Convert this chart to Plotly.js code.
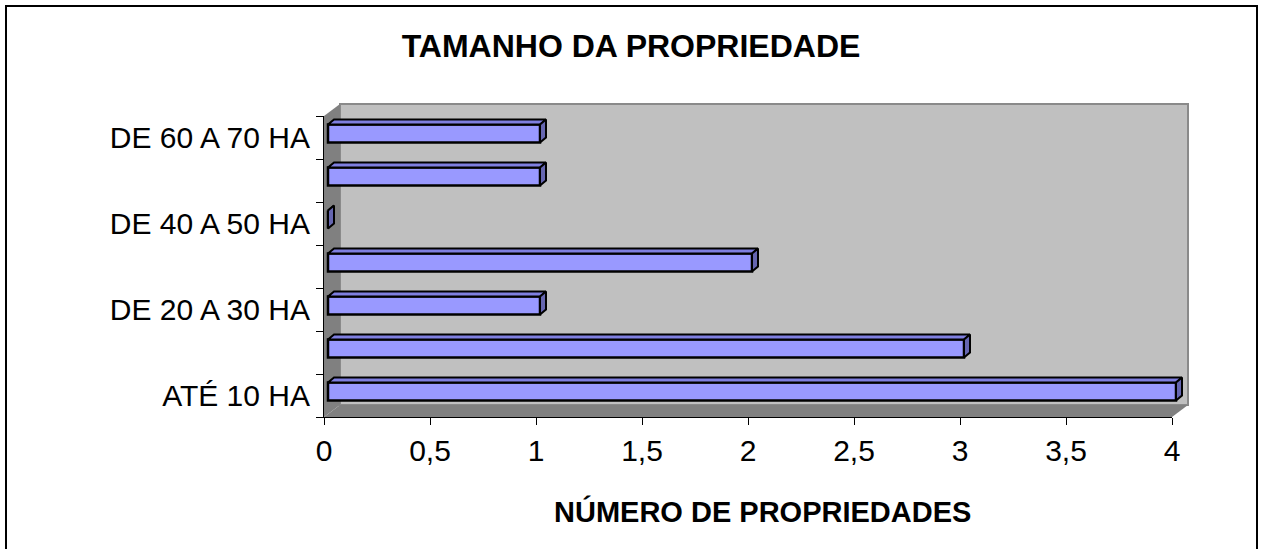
<!DOCTYPE html>
<html>
<head>
<meta charset="utf-8">
<script src="https://cdn.plot.ly/plotly-3.0.1.min.js"></script>
<style>html,body{margin:0;padding:0;background:#fff;}#chart{width:1262px;height:549px;}</style>
</head>
<body>
<div id="chart"></div>
<script>
// ---- data ----
const categories = ["ATÉ 10 HA", "DE 10 A 20 HA", "DE 20 A 30 HA", "DE 30 A 40 HA", "DE 40 A 50 HA", "DE 50 A 60 HA", "DE 60 A 70 HA"];
const values = [4, 3, 1, 2, 0, 1, 1];
const shownLabels = [true, false, true, false, true, false, true];
const xTickVals = [0, 0.5, 1, 1.5, 2, 2.5, 3, 3.5, 4];
const chartTitle = "TAMANHO DA PROPRIEDADE";
const xTitle = "NÚMERO DE PROPRIEDADES";

// ---- geometry (pixels) ----
const W = 1262, H = 549;
const L = 324, R = 1172, T = 116, B = 417;   // front axes box
const PL = 324, PR = 1200, PT = 95, PB = 417; // full plot area (incl. depth)
const PPW = PR - PL, PPH = PB - PT;
const XMAX = 4;
const nCat = categories.length;
const pxPerX = (R - L) / XMAX;
const pxPerCat = (B - T) / nCat;
const depthX = 16, depthY = 12;     // wall depth
const shiftX = 4, shiftY = 4;       // bars position inside depth
const barDX = 6, barDY = 5;         // bar depth
const barWidth = 0.42;

const px = x => (x - PL) / PPW;
const py = y => (PB - y) / PPH;

const idx = categories.map((c, i) => i);

// ranges of the bar axes spanning the full plot area, shifted into the depth
const x2min = -shiftX / pxPerX;
const x2max = x2min + PPW / pxPerX;
const y2min = -0.5 - shiftY / pxPerCat;
const y2max = y2min + PPH / pxPerCat;

// bar 3D faces in data units (bar axes)
const dxu = barDX / pxPerX, dyu = barDY / pxPerCat;
const topX = [], topY = [], sideX = [], sideY = [];
values.forEach((v, i) => {
  const y0 = i - barWidth / 2, y1 = i + barWidth / 2;
  topX.push(0, dxu, v + dxu, v, 0, null);
  topY.push(y1, y1 + dyu, y1 + dyu, y1, y1, null);
  sideX.push(v, v + dxu, v + dxu, v, v, null);
  sideY.push(y1, y1 + dyu, y0 + dyu, y0, y1, null);
});

const traces = [
  { // invisible trace carrying the visible axes
    type: 'scatter', mode: 'markers', x: values, y: idx, xaxis: 'x', yaxis: 'y',
    marker: {opacity: 0}, hoverinfo: 'skip', showlegend: false
  },
  {
    type: 'bar', orientation: 'h', x: values, y: idx, width: barWidth,
    xaxis: 'x2', yaxis: 'y2',
    marker: {color: '#9999FF', line: {color: '#000000', width: 2.5}},
    hoverinfo: 'x+text', text: categories, textposition: 'none', showlegend: false
  },
  {
    type: 'scatter', mode: 'lines', x: topX, y: topY, xaxis: 'x2', yaxis: 'y2',
    fill: 'toself', fillcolor: '#7F7FE0', line: {color: '#000000', width: 2},
    hoverinfo: 'skip', showlegend: false
  },
  {
    type: 'scatter', mode: 'lines', x: sideX, y: sideY, xaxis: 'x2', yaxis: 'y2',
    fill: 'toself', fillcolor: '#6666B0', line: {color: '#000000', width: 2},
    hoverinfo: 'skip', showlegend: false
  }
];

const font = 'Liberation Sans, Arial, sans-serif';

const shapes = [
  // outer border (bottom edge lies just outside the picture, as in the reference)
  {type: 'rect', xref: 'paper', yref: 'paper', x0: px(6), x1: px(1257), y0: py(552), y1: py(6),
   line: {color: '#000', width: 2}, fillcolor: 'rgba(0,0,0,0)', layer: 'below'},
  // back wall
  {type: 'rect', xref: 'paper', yref: 'paper', x0: px(L + depthX), x1: px(R + depthX), y0: py(B - depthY), y1: py(T - depthY),
   line: {color: '#8a8a8a', width: 2}, fillcolor: '#C0C0C0', layer: 'below'},
  // left wall
  {type: 'path', xref: 'paper', yref: 'paper',
   path: `M${px(L)},${py(T)} L${px(L + depthX)},${py(T - depthY)} L${px(L + depthX)},${py(B - depthY)} L${px(L)},${py(B)} Z`,
   line: {width: 0}, fillcolor: '#808080', layer: 'below'},
  // floor
  {type: 'path', xref: 'paper', yref: 'paper',
   path: `M${px(L)},${py(B)} L${px(L + depthX)},${py(B - depthY)} L${px(R + depthX)},${py(B - depthY)} L${px(R)},${py(B)} Z`,
   line: {width: 0}, fillcolor: '#808080', layer: 'below'}
];

const layout = {
  width: W, height: H,
  margin: {l: PL, r: W - PR, t: PT, b: H - PB, pad: 0},
  paper_bgcolor: '#ffffff', plot_bgcolor: 'rgba(0,0,0,0)',
  separators: ',.',
  showlegend: false,
  title: {text: '<b>' + chartTitle + '</b>', x: 0.5, xref: 'container', y: 1 - 46 / H, yref: 'container',
          xanchor: 'center', yanchor: 'middle', font: {family: font, size: 32, color: '#000'}},
  xaxis: {
    domain: [0, (R - L) / PPW], anchor: 'y',
    range: [0, XMAX], tickmode: 'array', tickvals: xTickVals,
    ticks: 'outside', ticklen: 7, tickwidth: 1, tickcolor: '#000',
    showline: true, linecolor: '#000', linewidth: 1, showgrid: false, zeroline: false,
    tickfont: {family: font, size: 30, color: '#000'}, fixedrange: true
  },
  yaxis: {
    domain: [0, (B - T) / PPH], anchor: 'x',
    range: [-0.5, nCat - 0.5], tickmode: 'array', tickvals: idx,
    ticktext: categories.map((c, i) => shownLabels[i] ? c : ''),
    ticks: 'outside', ticklen: 7, tickcolor: 'rgba(0,0,0,0)',
    minor: {tickmode: 'array', tickvals: idx.map(i => i - 0.5).concat([nCat - 0.5]), ticks: 'outside', ticklen: 7, tickcolor: '#000', showgrid: false},
    showline: true, linecolor: '#000', linewidth: 1, showgrid: false, zeroline: false,
    tickfont: {family: font, size: 30, color: '#000'}, fixedrange: true
  },
  xaxis2: {domain: [0, 1], anchor: 'y2', range: [x2min, x2max], visible: false, fixedrange: true},
  yaxis2: {domain: [0, 1], anchor: 'x2', range: [y2min, y2max], visible: false, fixedrange: true},
  shapes: shapes,
  annotations: [
    {text: '<b>' + xTitle + '</b>', xref: 'paper', yref: 'paper', x: px(762), y: py(511),
     xanchor: 'center', yanchor: 'middle', showarrow: false, font: {family: font, size: 29, color: '#000'}}
  ]
};

Plotly.newPlot('chart', traces, layout, {displayModeBar: false});
</script>
</body>
</html>
